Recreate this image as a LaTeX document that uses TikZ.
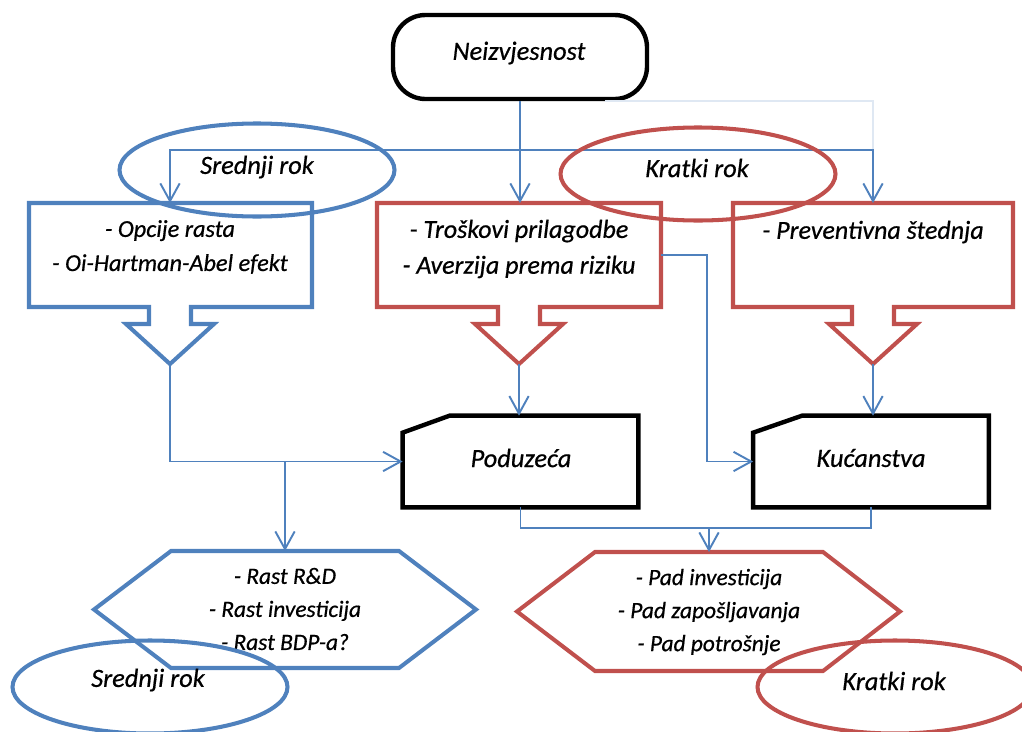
\documentclass[tikz,border=0pt]{standalone}
\usepackage{fontspec}
\setmainfont{Carlito}[ItalicFeatures={FakeBold=0.6}]
\usetikzlibrary{calc}
\usetikzlibrary{positioning}
\usetikzlibrary{arrows.meta, shapes.geometric}
\definecolor{ublue}{RGB}{79,129,189}
\definecolor{ured}{RGB}{192,80,77}

\begin{document}
\begin{tikzpicture}[x=0.2mm, y=-0.2mm, >={Straight Barb[length=10pt,width=11pt]}]
   \tikzstyle{conn}=[ublue, line width=1.1pt]
   \tikzstyle{bbox}=[ublue, line width=2.3pt]
   \tikzstyle{rbox}=[ured, line width=2.3pt]
   \tikzstyle{kbox}=[black, line width=2.5pt]
   \tikzstyle{lst}=[align=center, font=\fontsize{13.3}{18.8}\selectfont\itshape]
   \tikzstyle{lbl}=[font=\fontsize{15}{18}\selectfont\itshape]
   \tikzstyle{card}=[minimum width=47mm, minimum height=18.2mm, inner sep=0pt]
   \tikzstyle{rok}=[ellipse, line width=2.3pt, minimum width=55mm, minimum height=18.6mm]

   \useasboundingbox (0,0) rectangle (1022,731);
   \clip (0,0) rectangle (1022,731);

   % Start node
   \node[kbox, draw, rounded corners=6.5mm, minimum width=50.8mm, minimum height=16.8mm] (neiz) at (520,57) {};
   \node[lbl] (neizT) at (519,53) {Neizvjesnost};

   % Callout boxes
   \draw[bbox] (29,203) -- (312,203) -- (312,307) -- (191,307) -- (191,324) -- (214,324) -- (170,364)
      -- (126,324) -- (149,324) -- (149,307) -- (29,307) -- cycle;
   \coordinate (opcN) at (170,203);
   \coordinate (opcT) at (170,364);
   \node[lst, font=\fontsize{13.8}{19.4}\selectfont\itshape] (opc) at (170,247) {- Opcije rasta\\- Oi-Hartman-Abel efekt};

   \draw[rbox] (377,203) -- (661,203) -- (661,307) -- (540,307) -- (540,324) -- (563,324) -- (519,364)
      -- (475,324) -- (498,324) -- (498,307) -- (377,307) -- cycle;
   \coordinate (trosN) at (519,203);
   \coordinate (trosE) at (661,255);
   \coordinate (trosT) at (519,364);
   \node[lst, font=\fontsize{14.8}{20.4}\selectfont\itshape] (tros) at (519,249) {- Troškovi prilagodbe\\- Averzija prema riziku};

   \draw[rbox] (733,203) -- (1013,203) -- (1013,307) -- (894,307) -- (894,324) -- (917,324) -- (873,364)
      -- (829,324) -- (852,324) -- (852,307) -- (733,307) -- cycle;
   \coordinate (prevN) at (873,203);
   \coordinate (prevT) at (873,364);
   \node[lst, font=\fontsize{14.8}{20.4}\selectfont\itshape] (prev) at (873,232) {- Preventivna štednja};

   % Cards
   \node[card] (pod) at (520.5,461.5) {};
   \draw[kbox] (pod.south west) -- ($(pod.north west)+(0,17)$) -- ($(pod.north west)+(47,0)$)
      -- (pod.north east) -- (pod.south east) -- cycle;
   \node[lbl] (podT) at (521,458) {Poduzeća};
   \node[card] (kuc) at (871,461.5) {};
   \draw[kbox] (kuc.south west) -- ($(kuc.north west)+(0,17)$) -- ($(kuc.north west)+(49,0)$)
      -- (kuc.north east) -- (kuc.south east) -- cycle;
   \node[lbl] (kucT) at (871,458) {Kućanstva};

   % Outcomes
   \draw[bbox] (171,551) -- (399,551) -- (476,609.5) -- (399,668) -- (171,668) -- (94,609.5) -- cycle;
   \coordinate (rastN) at (285,551);
   \node[lst] (rast) at (285,609) {- Rast R\&D\\- Rast investicija\\- Rast BDP-a?};

   \draw[rbox] (595,552) -- (823,552) -- (900,611.5) -- (823,671) -- (595,671) -- (517,611.5) -- cycle;
   \coordinate (padN) at (709,552);
   \node[lst] (pad) at (709,612) {- Pad investicija\\- Pad zapošljavanja\\- Pad potrošnje};

   % Connectors
   \coordinate (hub) at (520,150);
   \coordinate (fnt) at (605,101);
   \draw[ublue!18, line width=1pt] (fnt) -| (prevN |- hub);
   \draw[conn,->] (neiz.south) -- (neiz.south |- trosN);
   \draw[conn,<->] (opcN) |- (hub) -| (prevN);
   \draw[conn,->] (trosT) -- (trosT |- pod.north);
   \draw[conn,->] (prevT) -- (prevT |- kuc.north);
   \draw[conn,->] (opcT) |- (pod.west);
   \draw[conn,->] (rastN |- pod.west) -- (rastN);
   \draw[conn,->] (trosE) -- ++(46,0) |- (kuc.west);
   \coordinate (join) at (709,528);
   \draw[conn] (pod.south) |- (join) -| (kuc.south);
   \draw[conn,->] (join) -- (padN);

   % Term ellipses
   \node[rok, draw=ublue] (srT) at (257,170) {};
   \node[lbl] (srTT) at (257,167) {Srednji rok};
   \node[rok, draw=ured] (krT) at (698,174) {};
   \node[lbl] (krTT) at (697,168) {Kratki rok};
   \node[rok, draw=ublue] (srB) at (150,687) {};
   \node[lbl] (srBT) at (148,680) {Srednji rok};
   \node[rok, draw=ured] (krB) at (895,687) {};
   \node[lbl] (krBT) at (894,681) {Kratki rok};
\end{tikzpicture}
\end{document}
